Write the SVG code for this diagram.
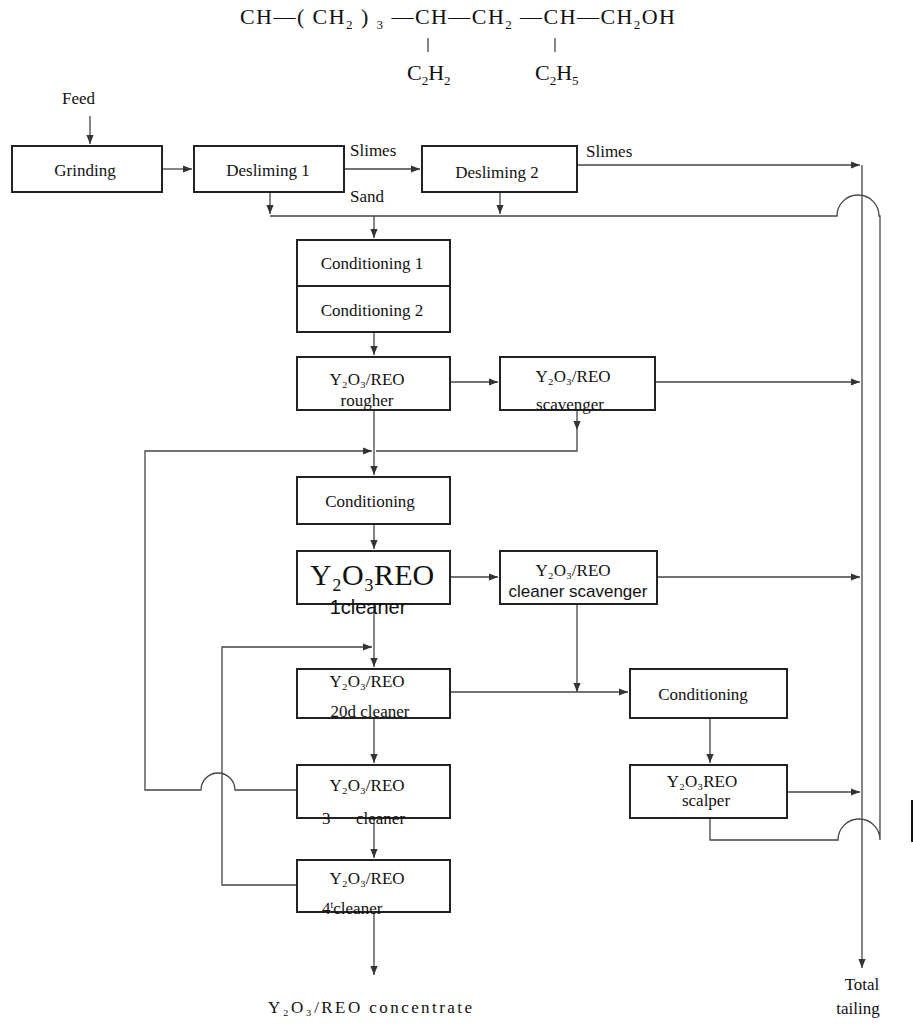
<svg xmlns="http://www.w3.org/2000/svg" width="913" height="1024" viewBox="0 0 913 1024">
<defs><marker id="a" viewBox="0 0 10 10" refX="10" refY="5" markerWidth="7" markerHeight="7" orient="auto"><path d="M0,1 L10,5 L0,9 z" fill="#333"/></marker></defs>
<style>
rect{fill:#fff;stroke:#222;stroke-width:2}
text{font-family:"Liberation Serif",serif;font-size:17px;fill:#111}
.c{stroke:#444;stroke-width:1.3;fill:none}
.m{text-anchor:middle}
</style>
<rect width="913" height="1024" style="stroke:none"/>
<g id="formula">
<text x="240" y="24" style="font-size:22px" textLength="435" lengthAdjust="spacing">CH—( CH<tspan font-size="13" dy="5">2</tspan><tspan dy="-5"> ) </tspan><tspan font-size="13" dy="5">3</tspan><tspan dy="-5"> —CH—CH</tspan><tspan font-size="13" dy="5">2</tspan><tspan dy="-5"> —CH—CH</tspan><tspan font-size="13" dy="5">2</tspan><tspan dy="-5">OH</tspan></text>
<line x1="428" y1="38" x2="428" y2="52" class="c"/><line x1="555" y1="38" x2="555" y2="52" class="c"/>
<text x="407" y="80" style="font-size:22px">C<tspan font-size="13" dy="5">2</tspan><tspan dy="-5">H</tspan><tspan font-size="13" dy="5">2</tspan></text>
<text x="535" y="80" style="font-size:22px">C<tspan font-size="13" dy="5">2</tspan><tspan dy="-5">H</tspan><tspan font-size="13" dy="5">5</tspan></text>
</g>
<g id="connectors" class="c">
<path d="M90,116 V144" marker-end="url(#a)"/>
<path d="M162,169 H192" marker-end="url(#a)"/>
<path d="M344,169 H420" marker-end="url(#a)"/>
<path d="M577,165 H860" marker-end="url(#a)"/>
<path d="M270,192 V214" marker-end="url(#a)"/>
<path d="M500,192 V214" marker-end="url(#a)"/>
<path d="M270,216 H837 A21,21 0 0 1 879,216 H880 V840 A21,21 0 0 0 838,840 H710 V818"/>
<path d="M374,216 V238" marker-end="url(#a)"/>
<path d="M374,332 V355" marker-end="url(#a)"/>
<path d="M450,382 H498" marker-end="url(#a)"/>
<path d="M655,382 H860" marker-end="url(#a)"/>
<path d="M862,165 V968" marker-end="url(#a)"/>
<path d="M374,410 V475" marker-end="url(#a)"/>
<path d="M577,410 V430" marker-end="url(#a)"/>
<path d="M577,430 V451 H376"/>
<path d="M296,790 H235 A17,17 0 0 0 201,790 H145 V451 H372" marker-end="url(#a)"/>
<path d="M374,524 V549" marker-end="url(#a)"/>
<path d="M450,577 H498" marker-end="url(#a)"/>
<path d="M657,577 H860" marker-end="url(#a)"/>
<path d="M577,604 V692" marker-end="url(#a)"/>
<path d="M296,885 H222 V647 H372" marker-end="url(#a)"/>
<path d="M374,604 V667" marker-end="url(#a)"/>
<path d="M450,692 H628" marker-end="url(#a)"/>
<path d="M710,718 V763" marker-end="url(#a)"/>
<path d="M787,792 H860" marker-end="url(#a)"/>
<path d="M374,718 V763" marker-end="url(#a)"/>
<path d="M374,818 V858" marker-end="url(#a)"/>
<path d="M374,912 V975" marker-end="url(#a)"/>
<path d="M912,800 V842" style="stroke:#111;stroke-width:2"/>
</g>
<text x="62" y="104">Feed</text>
<text x="350" y="156">Slimes</text>
<text x="586" y="157">Slimes</text>
<text x="350" y="202">Sand</text>
<g id="grinding"><rect x="12" y="146" width="150" height="46"/><text x="85" y="176" class="m">Grinding</text></g>
<g id="desl1"><rect x="194" y="146" width="150" height="46"/><text x="268" y="176" class="m">Desliming  1</text></g>
<g id="desl2"><rect x="422" y="146" width="155" height="46"/><text x="497" y="178" class="m">Desliming  2</text></g>
<g id="cond1"><rect x="297" y="240" width="153" height="46"/><text x="372" y="269" class="m">Conditioning  1</text></g>
<g id="cond2"><rect x="297" y="286" width="153" height="46"/><text x="372" y="316" class="m">Conditioning  2</text></g>
<g id="rougher"><rect x="297" y="357" width="153" height="53"/><text x="367" y="385" class="m">Y₂O₃/REO</text><text x="367" y="406" class="m">rougher</text></g>
<g id="scav"><rect x="500" y="357" width="155" height="53"/><text x="573" y="382" class="m">Y₂O₃/REO</text><text x="570" y="410" class="m">scavenger</text></g>
<g id="cond"><rect x="297" y="477" width="153" height="47"/><text x="370" y="507" class="m">Conditioning</text></g>
<g id="cl1"><rect x="297" y="551" width="153" height="53"/><text x="372" y="585" class="m" style="font-size:30px">Y₂O₃REO</text><text x="368" y="614" class="m" style="font-family:'Liberation Sans',sans-serif;font-size:20px">1cleaner</text></g>
<g id="clscav"><rect x="500" y="551" width="157" height="53"/><text x="573" y="576" class="m">Y₂O₃/REO</text><text x="578" y="597" class="m" style="font-family:'Liberation Sans',sans-serif">cleaner scavenger</text></g>
<g id="cl2"><rect x="297" y="669" width="153" height="49"/><text x="367" y="687" class="m">Y₂O₃/REO</text><text x="370" y="717" class="m">20d cleaner</text></g>
<g id="condr"><rect x="630" y="669" width="157" height="49"/><text x="703" y="700" class="m">Conditioning</text></g>
<g id="cl3"><rect x="297" y="765" width="153" height="53"/><text x="367" y="791" class="m">Y₂O₃/REO</text><text x="322" y="824">3</text><text x="356" y="824">cleaner</text></g>
<g id="scalper"><rect x="630" y="765" width="157" height="53"/><text x="702" y="787" class="m">Y₂O₃REO</text><text x="706" y="806" class="m">scalper</text></g>
<g id="cl4"><rect x="297" y="860" width="153" height="52"/><text x="367" y="884" class="m">Y₂O₃/REO</text><text x="322" y="914">4<tspan font-size="10" dy="-6">t</tspan><tspan dy="6">cleaner</tspan></text></g>
<text x="268" y="1013" textLength="204" lengthAdjust="spacing">Y₂O₃/REO   concentrate</text>
<text x="862" y="990" class="m">Total</text>
<text x="858" y="1014" class="m">tailing</text>
</svg>
